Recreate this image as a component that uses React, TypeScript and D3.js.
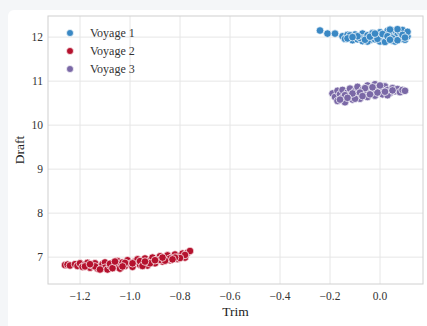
import React, { useRef, useEffect } from "react";
import * as d3 from "d3";

// (trim, draft) pairs
const voyage1: [number, number][] = [
  [-0.24, 12.15], [-0.21, 12.08], [-0.18, 12.08], [-0.15, 12.02], [-0.14, 11.96],
  [-0.13, 12.05], [-0.12, 11.99], [-0.11, 11.93], [-0.10, 12.06], [-0.10, 12.0],
  [-0.09, 11.95], [-0.08, 12.03], [-0.07, 11.91], [-0.07, 12.08], [-0.06, 11.98],
  [-0.05, 12.04], [-0.04, 11.93], [-0.03, 12.09], [-0.03, 12.0], [-0.02, 11.95],
  [-0.01, 12.05], [0.0, 11.9], [0.0, 12.11], [0.01, 11.98], [0.02, 12.04],
  [0.03, 11.93], [0.03, 12.14], [0.04, 12.0], [0.05, 12.08], [0.05, 11.92],
  [0.06, 12.15], [0.06, 11.97], [0.07, 12.04], [0.08, 11.95], [0.08, 12.12],
  [0.09, 12.0], [0.1, 12.07], [0.1, 11.94], [0.11, 12.02], [0.09, 12.16],
  [0.07, 12.18], [0.04, 12.17], [-0.12, 12.04], [-0.05, 11.9], [0.02, 11.89],
  [0.11, 12.12], [-0.02, 12.02], [-0.08, 11.98], [0.06, 11.9],
  [-0.13, 11.97], [-0.09, 12.02], [-0.06, 11.94], [-0.04, 12.01], [-0.01, 11.96],
  [0.01, 12.07], [0.03, 12.02], [0.05, 11.97], [0.07, 11.93], [0.09, 12.05],
  [0.1, 11.99], [-0.11, 12.0], [-0.02, 12.08], [0.04, 11.94],
];

const voyage2: [number, number][] = [
  [-1.26, 6.82], [-1.25, 6.83], [-1.24, 6.81], [-1.22, 6.84], [-1.21, 6.8],
  [-1.2, 6.86], [-1.19, 6.78], [-1.18, 6.83], [-1.17, 6.87], [-1.16, 6.76],
  [-1.15, 6.81], [-1.14, 6.86], [-1.13, 6.74], [-1.12, 6.79], [-1.11, 6.84],
  [-1.1, 6.88], [-1.1, 6.76], [-1.09, 6.72], [-1.08, 6.81], [-1.07, 6.86],
  [-1.06, 6.77], [-1.05, 6.91], [-1.05, 6.83], [-1.04, 6.74], [-1.03, 6.88],
  [-1.02, 6.8], [-1.01, 6.93], [-1.0, 6.85], [-0.99, 6.78], [-0.98, 6.9],
  [-0.97, 6.95], [-0.96, 6.83], [-0.95, 6.88], [-0.94, 6.97], [-0.93, 6.81],
  [-0.92, 6.92], [-0.91, 6.99], [-0.9, 6.86], [-0.89, 6.95], [-0.88, 7.02],
  [-0.87, 6.9], [-0.86, 6.97], [-0.85, 7.04], [-0.84, 6.93], [-0.83, 7.0],
  [-0.82, 7.06], [-0.81, 6.96], [-0.8, 7.03], [-0.79, 7.08], [-0.78, 6.99],
  [-0.77, 7.1], [-0.76, 7.14], [-0.78, 7.05], [-0.8, 6.98], [-0.84, 6.97],
  [-0.88, 6.94], [-1.18, 6.79], [-1.14, 6.79], [-1.08, 6.85], [-1.02, 6.87],
  [-0.96, 6.91], [-0.92, 6.86], [-0.86, 6.92], [-0.82, 6.99], [-0.95, 6.8],
  [-1.16, 6.84], [-1.12, 6.72], [-1.07, 6.75], [-1.03, 6.79], [-0.99, 6.86],
  [-0.94, 6.9], [-0.9, 6.93], [-0.87, 6.99], [-0.83, 6.95], [-1.06, 6.9],
];

const voyage3: [number, number][] = [
  [-0.19, 10.72], [-0.18, 10.64], [-0.17, 10.78], [-0.17, 10.55], [-0.16, 10.7],
  [-0.15, 10.62], [-0.15, 10.8], [-0.14, 10.52], [-0.13, 10.74], [-0.12, 10.66],
  [-0.12, 10.83], [-0.11, 10.58], [-0.1, 10.77], [-0.09, 10.69], [-0.09, 10.87],
  [-0.08, 10.6], [-0.07, 10.8], [-0.06, 10.72], [-0.05, 10.9], [-0.05, 10.64],
  [-0.04, 10.83], [-0.03, 10.75], [-0.02, 10.93], [-0.02, 10.67], [-0.01, 10.86],
  [0.0, 10.78], [0.01, 10.7], [0.02, 10.88], [0.03, 10.8], [0.04, 10.73],
  [0.05, 10.84], [0.06, 10.77], [0.07, 10.82], [0.08, 10.75], [0.09, 10.8],
  [0.1, 10.78], [-0.14, 10.68], [-0.1, 10.6], [-0.06, 10.84], [0.0, 10.9],
  [0.03, 10.68], [-0.16, 10.58], [-0.11, 10.72],
  [-0.13, 10.62], [-0.08, 10.74], [-0.04, 10.7], [-0.01, 10.74], [0.02, 10.76],
  [0.05, 10.79], [-0.07, 10.66], [-0.03, 10.86],
];

const seriesNames = ["Voyage 1", "Voyage 2", "Voyage 3"];
const seriesColors = ["#3a88c4", "#b5122e", "#7a68a6"];
const xTicks = [-1.2, -1.0, -0.8, -0.6, -0.4, -0.2, 0.0];
const yTicks = [7, 8, 9, 10, 11, 12];

const W = 427;
const H = 326;
const margin = { top: 16, right: 4, bottom: 42, left: 48 };
const font = "'Liberation Serif', 'DejaVu Serif', serif";

function App() {
  const svgRef = useRef<SVGSVGElement>(null);

  useEffect(() => {
    const svg = d3.select(svgRef.current);
    svg.selectAll("*").remove();

    // page backdrop and card
    svg.append("rect").attr("width", W).attr("height", H).attr("fill", "#f4f6f8");
    svg.append("rect")
      .attr("x", 8).attr("y", 10).attr("width", W).attr("height", H)
      .attr("rx", 6).attr("fill", "#ffffff");

    const x = d3.scaleLinear().domain([-1.328, 0.172]).range([margin.left, W - margin.right]);
    const y = d3.scaleLinear().domain([6.39, 12.48]).range([H - margin.bottom, margin.top]);

    const grid = svg.append("g");
    grid.selectAll(".vx").data(xTicks).enter().append("line")
      .attr("x1", (d) => x(d)).attr("x2", (d) => x(d))
      .attr("y1", y.range()[0]).attr("y2", y.range()[1])
      .attr("stroke", "#e6e6e6").attr("stroke-width", 1);
    grid.selectAll(".hy").data(yTicks).enter().append("line")
      .attr("y1", (d) => y(d)).attr("y2", (d) => y(d))
      .attr("x1", x.range()[0]).attr("x2", x.range()[1])
      .attr("stroke", "#e6e6e6").attr("stroke-width", 1);

    svg.append("rect")
      .attr("x", x.range()[0]).attr("y", y.range()[1])
      .attr("width", x.range()[1] - x.range()[0])
      .attr("height", y.range()[0] - y.range()[1])
      .attr("fill", "none").attr("stroke", "#d0d0d0");

    const fmt = (d: number) => d3.format(".1f")(d).replace("-", "\u2212");
    svg.selectAll(".xt").data(xTicks).enter().append("text")
      .attr("x", (d) => x(d)).attr("y", y.range()[0] + 16)
      .attr("text-anchor", "middle").attr("font-family", font)
      .attr("font-size", 11.5).attr("fill", "#333")
      .text(fmt);
    svg.selectAll(".yt").data(yTicks).enter().append("text")
      .attr("x", x.range()[0] - 5).attr("y", (d) => y(d)).attr("dy", "0.35em")
      .attr("text-anchor", "end").attr("font-family", font)
      .attr("font-size", 11.5).attr("fill", "#333")
      .text((d) => String(d));

    svg.append("text")
      .attr("x", (x.range()[0] + x.range()[1]) / 2).attr("y", H - 10)
      .attr("text-anchor", "middle").attr("font-family", font)
      .attr("font-size", 13.5).attr("fill", "#222").text("Trim");
    svg.append("text")
      .attr("transform", `translate(24,${(y.range()[0] + y.range()[1]) / 2}) rotate(-90)`)
      .attr("text-anchor", "middle").attr("font-family", font)
      .attr("font-size", 13.5).attr("fill", "#222").text("Draft");

    const allSeries = [voyage1, voyage2, voyage3];
    allSeries.forEach((pts, i) => {
      svg.append("g").selectAll("circle").data(pts).enter().append("circle")
        .attr("cx", (d) => x(d[0])).attr("cy", (d) => y(d[1]))
        .attr("r", 3.8)
        .attr("fill", seriesColors[i])
        .attr("stroke", "#ffffff").attr("stroke-width", 0.7);
    });

    const legend = svg.append("g").attr("transform", "translate(70,33)");
    seriesNames.forEach((name, i) => {
      const g = legend.append("g").attr("transform", `translate(0,${i * 18})`);
      g.append("circle").attr("r", 3.5).attr("fill", seriesColors[i])
        .attr("stroke", "#fff").attr("stroke-width", 0.7);
      g.append("text").attr("x", 20).attr("dy", "0.35em")
        .attr("font-family", font).attr("font-size", 12).attr("fill", "#333")
        .text(name);
    });
  }, []);

  return (
    <svg
      ref={svgRef}
      width={W}
      height={H}
      style={{ position: "absolute", left: 0, top: 0, display: "block" }}
    />
  );
}

export default App;
